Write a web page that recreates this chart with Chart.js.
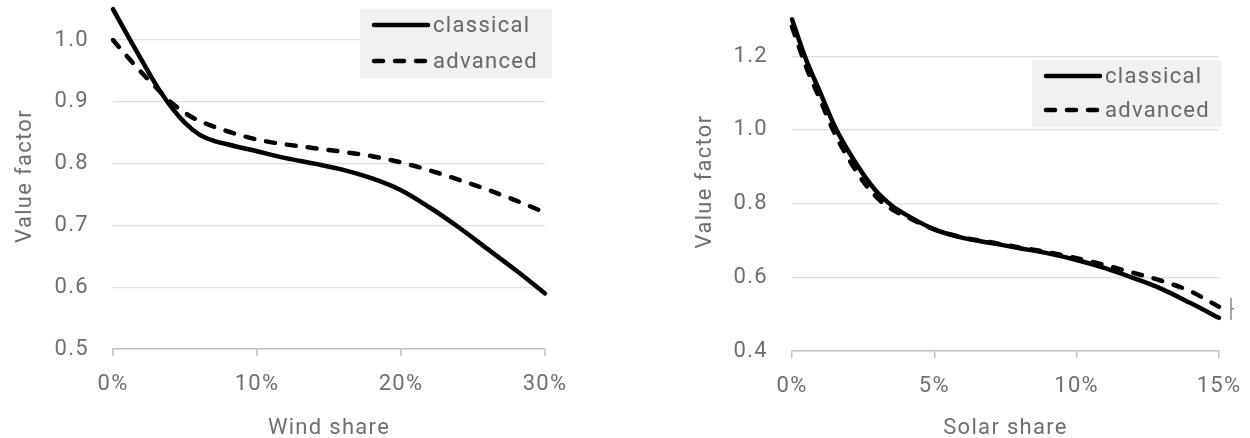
<!DOCTYPE html>
<html>
<head>
<meta charset="utf-8">
<script src="https://cdn.jsdelivr.net/npm/chart.js@4.4.1/dist/chart.umd.min.js"></script>
<style>
  html, body { margin: 0; padding: 0; background: #ffffff; }
  #wrap { position: relative; width: 1250px; height: 438px; overflow: hidden; }
  .panel { position: absolute; top: 0; height: 438px; }
  #p1 { left: 0; width: 600px; }
  #p2 { left: 680px; width: 570px; }
</style>
</head>
<body>
<div id="wrap">
  <div class="panel" id="p1"><canvas id="wind"></canvas></div>
  <div class="panel" id="p2"><canvas id="solar"></canvas></div>
</div>
<script>
// Series names
const seriesNames = ['classical', 'advanced'];

// Wind panel: share of wind (%) and value factors
const windShare     = [0, 1, 2, 3, 4, 5, 6, 7, 8, 10, 12, 14, 16, 18, 20, 22, 24, 26, 28, 30];
const windClassical = [1.05, 1.008, 0.967, 0.927, 0.893, 0.866, 0.847, 0.837, 0.831, 0.820, 0.809, 0.800, 0.790, 0.776, 0.757, 0.729, 0.697, 0.662, 0.627, 0.590];
const windAdvanced  = [1.00, 0.973, 0.947, 0.923, 0.90, 0.882, 0.869, 0.860, 0.852, 0.839, 0.831, 0.825, 0.819, 0.812, 0.802, 0.789, 0.774, 0.758, 0.740, 0.721];
const windYTicks    = [0.5, 0.6, 0.7, 0.8, 0.9, 1.0];
const windXTicks    = [0, 10, 20, 30];

// Solar panel: share of solar (%) and value factors
const solarShare     = [0, 0.5, 1, 1.5, 2, 2.5, 3, 3.5, 4, 5, 6, 7, 8, 9, 10, 11, 12, 13, 14, 15];
const solarClassical = [1.30, 1.19, 1.10, 1.01, 0.94, 0.88, 0.83, 0.795, 0.77, 0.73, 0.707, 0.693, 0.679, 0.665, 0.647, 0.625, 0.598, 0.568, 0.530, 0.490];
const solarAdvanced  = [1.28, 1.17, 1.08, 0.99, 0.92, 0.86, 0.815, 0.785, 0.765, 0.73, 0.708, 0.695, 0.681, 0.668, 0.652, 0.633, 0.612, 0.590, 0.562, 0.520];
const solarYTicks    = [0.4, 0.6, 0.8, 1.0, 1.2];
const solarXTicks    = [0, 5, 10, 15];

const FONT = 'Roboto, "Noto Sans", sans-serif';
const TEXT = '#6f6f6f';
const SPACING = '1.3px';

// Wider tracking for all canvas text
const tracking = {
  id: 'tracking',
  beforeUpdate(chart) { chart.ctx.letterSpacing = SPACING; },
  beforeLayout(chart) { chart.ctx.letterSpacing = SPACING; },
  beforeDraw(chart) { chart.ctx.letterSpacing = SPACING; }
};

// Legend drawn inside the plot on a light panel
const insetLegend = {
  id: 'insetLegend',
  afterDraw(chart, args, o) {
    const ctx = chart.ctx;
    ctx.save();
    ctx.letterSpacing = SPACING;
    ctx.fillStyle = '#f1f1f1';
    ctx.fillRect(o.x, o.y, o.w, o.h);
    chart.data.datasets.forEach((ds, i) => {
      const yy = o.y + 16 + i * o.rowGap;
      ctx.beginPath();
      ctx.lineWidth = ds.borderWidth;
      ctx.strokeStyle = ds.borderColor;
      ctx.lineCap = 'round';
      ctx.setLineDash(ds.borderDash || []);
      ctx.moveTo(o.x + 14, yy);
      ctx.lineTo(o.x + 68, yy);
      ctx.stroke();
      ctx.setLineDash([]);
      ctx.fillStyle = '#666666';
      ctx.font = '22px ' + FONT;
      ctx.textBaseline = 'middle';
      ctx.textAlign = 'left';
      ctx.fillText(ds.label, o.x + 73, yy + 1);
    });
    ctx.restore();
  }
};

// Small brace marking the gap between the two series at the last share
const endBrace = {
  id: 'endBrace',
  afterDatasetsDraw(chart, args, o) {
    if (!o.show) return;
    const ctx = chart.ctx;
    const ys = chart.scales.y;
    const n = chart.data.datasets[0].data.length - 1;
    const y1 = ys.getPixelForValue(chart.data.datasets[1].data[n].y) - 9;
    const y2 = ys.getPixelForValue(chart.data.datasets[0].data[n].y) + 2;
    const x = chart.chartArea.right + 12;
    const ym = (y1 + y2) / 2;
    ctx.save();
    ctx.strokeStyle = '#8a8a8a';
    ctx.lineWidth = 1.5;
    ctx.beginPath();
    ctx.moveTo(x, y1);
    ctx.lineTo(x, y2);
    ctx.moveTo(x, ym);
    ctx.lineTo(x + 3, ym);
    ctx.stroke();
    ctx.restore();
  }
};

function toPoints(xs, ys) { return xs.map((x, i) => ({ x: x, y: ys[i] })); }

function makeChart(id, cfg) {
  const datasets = [
    { label: seriesNames[0], data: toPoints(cfg.share, cfg.classical), borderColor: '#000000', borderWidth: 4.5,
      borderCapStyle: 'round', pointRadius: 0, cubicInterpolationMode: 'monotone', clip: false },
    { label: seriesNames[1], data: toPoints(cfg.share, cfg.advanced), borderColor: '#000000', borderWidth: 4.5,
      borderDash: [9, 12], borderCapStyle: 'round', pointRadius: 0, cubicInterpolationMode: 'monotone', clip: false }
  ];
  return new Chart(document.getElementById(id), {
    type: 'line',
    data: { datasets: datasets },
    plugins: [tracking, insetLegend, endBrace],
    options: {
      responsive: true,
      maintainAspectRatio: false,
      devicePixelRatio: 1,
      animation: false,
      layout: { padding: { top: cfg.padTop, right: cfg.padRight, bottom: 0, left: 0 } },
      plugins: {
        legend: { display: false },
        tooltip: { enabled: false },
        insetLegend: cfg.legend,
        endBrace: { show: !!cfg.brace }
      },
      scales: {
        x: {
          type: 'linear',
          min: cfg.xTicks[0],
          max: cfg.xTicks[cfg.xTicks.length - 1],
          afterBuildTicks: s => { s.ticks = cfg.xTicks.map(v => ({ value: v })); },
          afterFit: s => { s.height = cfg.xHeight; s.paddingLeft = 0; s.paddingRight = 0; },
          grid: { display: true, drawOnChartArea: false, drawTicks: true, tickLength: 7, color: '#c4c4c4', lineWidth: 1.5 },
          border: { display: true, color: '#c4c4c4', width: 1.5 },
          ticks: { color: TEXT, font: { family: FONT, size: 22 }, padding: 15, maxRotation: 0,
                   callback: v => v + '%' },
          title: { display: true, text: cfg.xTitle, color: TEXT, font: { family: FONT, size: 22 }, padding: { top: 0, bottom: -4 } }
        },
        y: {
          min: cfg.yMin,
          max: cfg.yMax,
          afterBuildTicks: s => { s.ticks = cfg.yTicks.map(v => ({ value: v })); },
          afterFit: s => { s.width = cfg.yWidth; s.paddingTop = 0; s.paddingBottom = 0; },
          grid: { color: '#dedede', lineWidth: 1.2, drawTicks: false },
          border: { display: false },
          ticks: { color: TEXT, font: { family: FONT, size: 22 }, padding: 24,
                   callback: v => Number(v).toFixed(1) },
          title: { display: true, text: 'Value factor', color: TEXT, font: { family: FONT, size: 22 }, padding: { top: 12, bottom: 0 } }
        }
      }
    }
  });
}

makeChart('wind', {
  share: windShare, classical: windClassical, advanced: windAdvanced,
  xTicks: windXTicks, yTicks: windYTicks, yMin: 0.5, yMax: 1.06,
  xTitle: 'Wind share', padTop: 3, padRight: 55, xHeight: 89, yWidth: 113,
  legend: { x: 360, y: 9, w: 192, h: 69, rowGap: 36 },
  brace: false
});

makeChart('solar', {
  share: solarShare, classical: solarClassical, advanced: solarAdvanced,
  xTicks: solarXTicks, yTicks: solarYTicks, yMin: 0.4, yMax: 1.32,
  xTitle: 'Solar share', padTop: 12, padRight: 31, xHeight: 87, yWidth: 112,
  legend: { x: 352, y: 60, w: 190, h: 67, rowGap: 34 },
  brace: true
});
</script>
</body>
</html>
